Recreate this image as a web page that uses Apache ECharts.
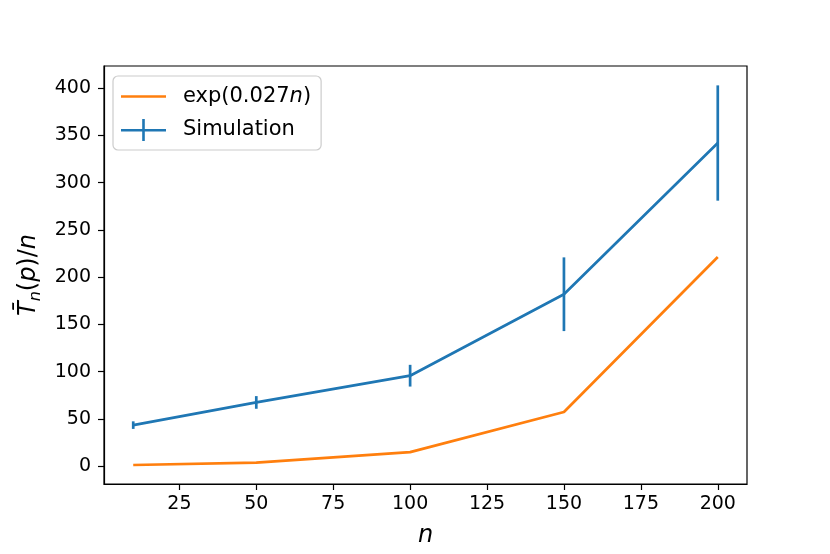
<!DOCTYPE html>
<html>
<head>
<meta charset="utf-8">
<script src="https://cdn.jsdelivr.net/npm/echarts@6/dist/echarts.min.js"></script>
<style>html,body{margin:0;padding:0;background:#fff;}#c{width:830px;height:554px;}</style>
</head>
<body>
<div id="c"></div>
<script>
const nValues = [10, 50, 100, 150, 200];
const expValues = [1.31, 3.86, 14.88, 57.4, 221.4];
const simMean = [43.5, 67.5, 95.8, 182, 342];
const simErr = [4, 6.7, 11.5, 39, 61];
const xTicks = [25, 50, 75, 100, 125, 150, 175, 200];
const yTicks = [0, 50, 100, 150, 200, 250, 300, 350, 400];

const FONT = 'DejaVu Sans';
const ORANGE = '#ff7f0e';
const BLUE = '#1f77b4';

const chart = echarts.init(document.getElementById('c'), null, {renderer: 'canvas'});
const errData = nValues.map((n, i) => [n, simMean[i] - simErr[i], simMean[i] + simErr[i]]);

chart.setOption({
  animation: false,
  backgroundColor: '#fff',
  grid: {left: 104, right: 83, top: 66, bottom: 70, show: true, borderColor: '#000', borderWidth: 1.2, backgroundColor: 'transparent'},
  legend: {
    orient: 'vertical', left: 113, top: 76,
    padding: [10, 10, 9, 8], itemGap: 12, itemWidth: 45, itemHeight: 22,
    borderColor: '#cccccc', borderWidth: 1.2, borderRadius: 5, backgroundColor: '#fff',
    textStyle: {fontFamily: FONT, fontSize: 21, color: '#000', padding: [0, 0, 0, 12],
      rich: {it: {fontFamily: FONT, fontSize: 21, fontStyle: 'italic', color: '#000'}}},
    formatter: function (name) { return name === 'exp' ? 'exp(0.027{it|n})' : name; },
    data: [
      {name: 'exp', icon: 'path://M0,10 L45,10 L45,12.6 L0,12.6 Z'},
      {name: 'Simulation', icon: 'path://M0,10 L21.2,10 L21.2,0 L23.8,0 L23.8,10 L45,10 L45,12.6 L23.8,12.6 L23.8,22 L21.2,22 L21.2,12.6 L0,12.6 Z'}
    ]
  },
  xAxis: {
    type: 'value', min: 0.5, max: 209.5,
    name: 'n', nameLocation: 'middle', nameGap: 40,
    nameTextStyle: {fontFamily: FONT, fontSize: 24, fontStyle: 'italic', color: '#000'},
    axisLine: {show: true, onZero: false, lineStyle: {color: '#000', width: 1.2}},
    axisTick: {show: true, length: 6, lineStyle: {color: '#000', width: 1.2}, customValues: xTicks},
    axisLabel: {fontFamily: FONT, fontSize: 19, color: '#000', margin: 11, customValues: xTicks},
    splitLine: {show: false}
  },
  yAxis: {
    type: 'value', min: -18.8, max: 423.5,
    name: '{i|T\u0304}{s|n}{r|(}{i|p}{r|)/}{i|n}', nameLocation: 'middle', nameGap: 52,
    nameTextStyle: {fontFamily: FONT, fontSize: 24, color: '#000',
      rich: {
        i: {fontFamily: FONT, fontSize: 24, fontStyle: 'italic', color: '#000', lineHeight: 30},
        r: {fontFamily: FONT, fontSize: 24, color: '#000', lineHeight: 30},
        s: {fontFamily: FONT, fontSize: 16, fontStyle: 'italic', color: '#000', lineHeight: 30, verticalAlign: 'bottom', padding: [10, 0, 0, 0]}
      }},
    axisLine: {show: true, onZero: false, lineStyle: {color: '#000', width: 1.2}},
    axisTick: {show: true, length: 6, lineStyle: {color: '#000', width: 1.2}, customValues: yTicks},
    axisLabel: {fontFamily: FONT, fontSize: 19, color: '#000', margin: 13, customValues: yTicks},
    splitLine: {show: false}
  },
  series: [
    {
      name: 'exp', type: 'line', data: nValues.map((n, i) => [n, expValues[i]]),
      showSymbol: false, symbol: 'none', color: ORANGE,
      lineStyle: {color: ORANGE, width: 2.7}, z: 2
    },
    {
      name: 'Simulation', type: 'line', data: nValues.map((n, i) => [n, simMean[i]]),
      showSymbol: false, symbol: 'none', color: BLUE,
      lineStyle: {color: BLUE, width: 2.7}, z: 3
    },
    {
      name: 'Simulation', type: 'custom', data: errData, color: BLUE, z: 3,
      renderItem: function (params, api) {
        const p1 = api.coord([api.value(0), api.value(1)]);
        const p2 = api.coord([api.value(0), api.value(2)]);
        return {type: 'line', shape: {x1: p1[0], y1: p1[1], x2: p2[0], y2: p2[1]},
          style: {stroke: BLUE, lineWidth: 2.7}};
      }
    }
  ]
});
</script>
</body>
</html>
